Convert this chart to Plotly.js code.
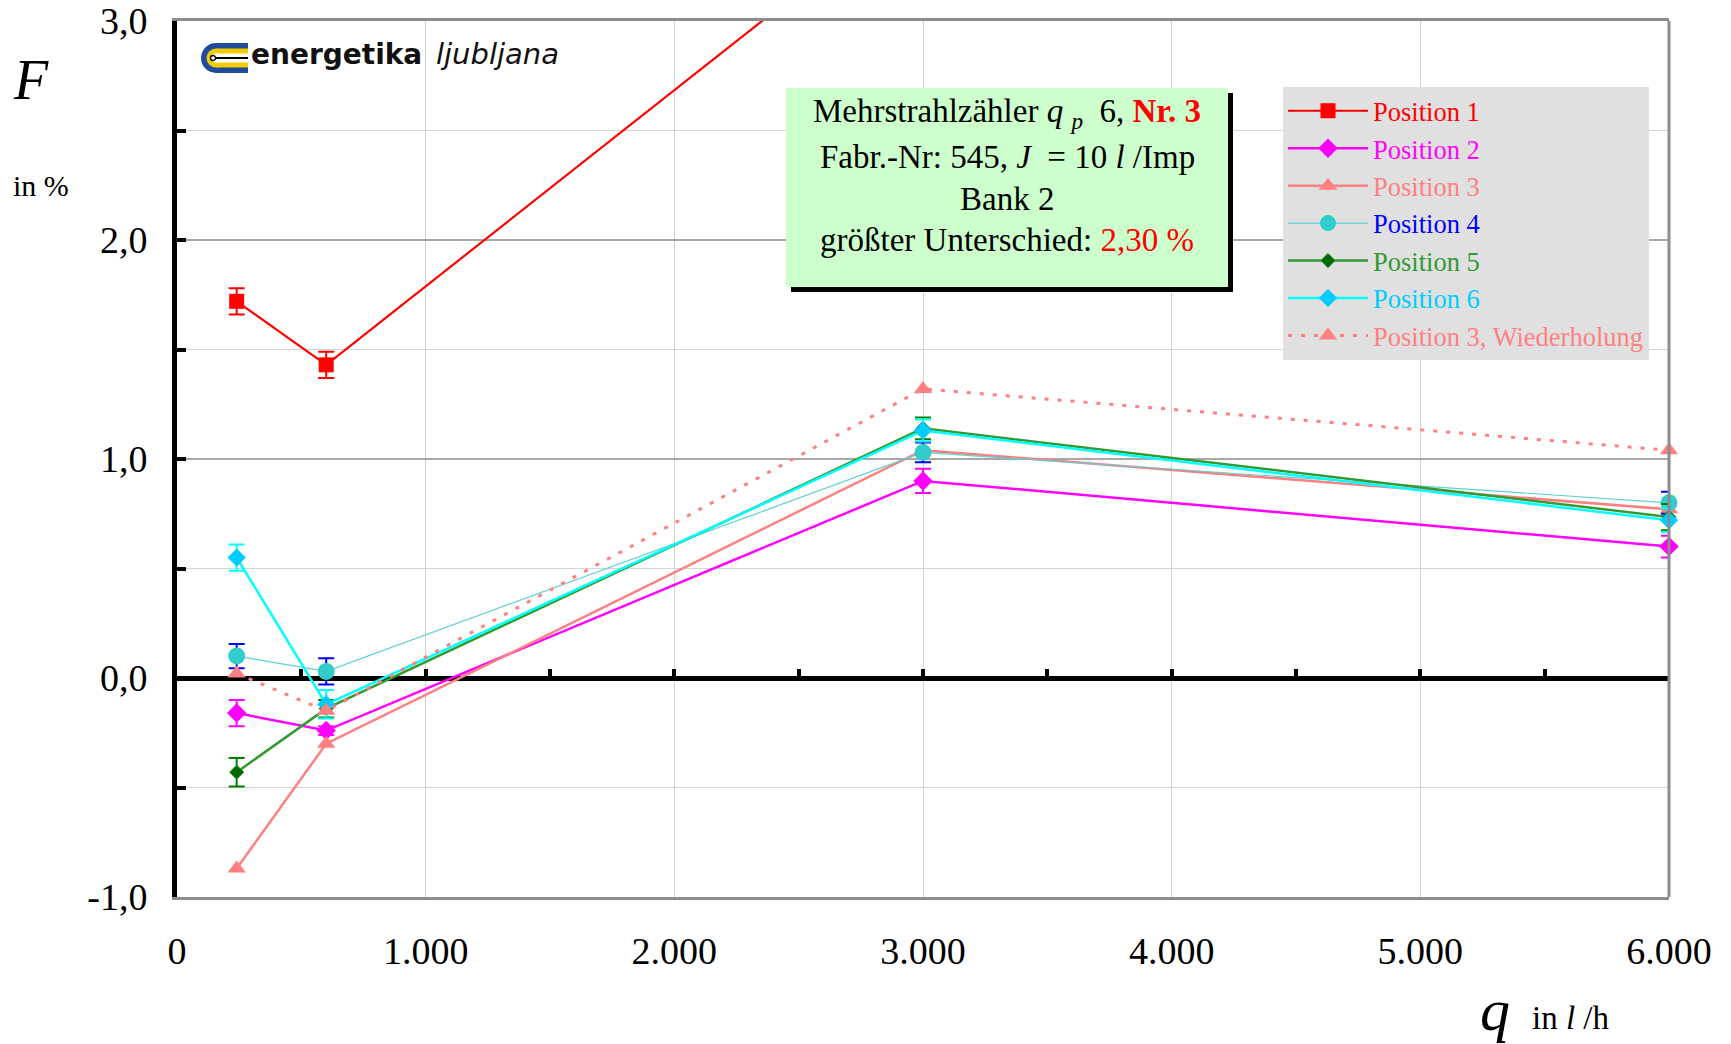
<!DOCTYPE html>
<html>
<head>
<meta charset="utf-8">
<script src="https://cdn.plot.ly/plotly-3.0.1.min.js"></script>
<style>html,body{margin:0;padding:0;background:#fff;}#chart{width:1731px;height:1044px;}</style>
</head>
<body>
<div id="chart"></div>
<script>
// ---- data ----
const flowRates = [240, 600, 3000, 6000];          // q in l/h
const flowRatesPos1 = [240, 600, 3000];
const pos1 = [1.72, 1.43, 3.58];
const pos1Err = [0.06, 0.06, 0.06];
const pos2 = [-0.16, -0.24, 0.90, 0.60];
const pos2Err = [0.06, 0.02, 0.055, 0.05];
const pos3 = [-0.87, -0.30, 1.04, 0.77];
const pos4 = [0.10, 0.03, 1.03, 0.80];
const pos4Err = [0.055, 0.06, 0.045, 0.05];
const pos5 = [-0.43, -0.14, 1.14, 0.735];
const pos5Err = [0.065, 0.04, 0.05, 0.06];
const pos6 = [0.55, -0.12, 1.13, 0.72];
const pos6Err = [0.06, 0.065, 0.05, 0.055];
const pos3Rep = [0.02, -0.15, 1.32, 1.04];
const seriesNames = ["Position 1", "Position 2", "Position 3", "Position 4", "Position 5", "Position 6", "Position 3, Wiederholung"];
const xTickVals = [0, 1000, 2000, 3000, 4000, 5000, 6000];
const yTickVals = [-1, 0, 1, 2, 3];
const yTickText = yTickVals.map(v => v.toFixed(1).replace('.', ','));

// ---- layout geometry ----
const W = 1731, H = 1044, ML = 177, MR = 62, MT = 21, MB = 147;
const PW = W - ML - MR, PH = H - MT - MB;
const px = x => (x - ML) / PW;
const py = y => (H - MB - y) / PH;
const serif = "Liberation Serif, Times New Roman, serif";

function lbl(name, color) { return '<span style="color:' + color + '">' + name + '</span>'; }

function errBar(arr, color) {
  return {type: 'data', array: arr, visible: true, color: color, thickness: 2, width: 8};
}

const traces = [
  {x: flowRatesPos1, y: pos1, name: lbl(seriesNames[0], '#FF0000'), mode: 'lines+markers',
   line: {color: '#FF0000', width: 2.2}, marker: {symbol: 'square', size: 15, color: '#FF0000'},
   error_y: errBar(pos1Err, '#FF0000'), cliponaxis: true},
  {x: flowRates, y: pos2, name: lbl(seriesNames[1], '#FF00FF'), mode: 'lines+markers',
   line: {color: '#FF00FF', width: 2.5}, marker: {symbol: 'diamond', size: 15, color: '#FF00FF'},
   error_y: errBar(pos2Err, '#FF00FF'), cliponaxis: false},
  {x: flowRates, y: pos3, name: lbl(seriesNames[2], '#FF8080'), mode: 'lines+markers',
   line: {color: '#FF8080', width: 2.5}, marker: {symbol: 'triangle-up', size: 16, color: '#FF8080'},
   cliponaxis: false},
  {x: flowRates, y: pos4, name: lbl(seriesNames[3], '#0000FF'), mode: 'lines+markers',
   line: {color: '#5FD0D0', width: 1.2}, marker: {symbol: 'circle', size: 17, color: '#33CCCC'},
   error_y: errBar(pos4Err, '#0000FF'), cliponaxis: false},
  {x: flowRates, y: pos5, name: lbl(seriesNames[4], '#339933'), mode: 'lines+markers',
   line: {color: '#339933', width: 2.5}, marker: {symbol: 'diamond', size: 11, color: '#006600', line: {color: '#339933', width: 1}},
   error_y: errBar(pos5Err, '#008000'), cliponaxis: false},
  {x: flowRates, y: pos6, name: lbl(seriesNames[5], '#00CCFF'), mode: 'lines+markers',
   line: {color: '#00FFFF', width: 2.5}, marker: {symbol: 'diamond', size: 14, color: '#00CCFF'},
   error_y: errBar(pos6Err, '#00FFFF'), cliponaxis: false},
  {x: flowRates, y: pos3Rep, name: lbl(seriesNames[6], '#FF8080'), mode: 'lines+markers',
   line: {color: '#FF8080', width: 3, dash: '4px,9px'}, marker: {symbol: 'triangle-up', size: 16, color: '#FF8080'},
   cliponaxis: false},
  // carrier for the tick marks on the zero line
  {x: [], y: [], xaxis: 'x2', yaxis: 'y', showlegend: false, hoverinfo: 'skip', mode: 'markers'}
];

// logo shapes (pixel positions converted to paper)
function circ(cx, cy, r, color) {
  return {type: 'circle', xref: 'paper', yref: 'paper', x0: px(cx - r), x1: px(cx + r), y0: py(cy + r), y1: py(cy - r),
          fillcolor: color, line: {width: 0}, layer: 'above'};
}
function rect(x0, y0, x1, y1, color, lineColor, lw) {
  return {type: 'rect', xref: 'paper', yref: 'paper', x0: px(x0), x1: px(x1), y0: py(y1), y1: py(y0),
          fillcolor: color, line: {width: lw || 0, color: lineColor || color}, layer: 'above'};
}

const shapes = [
  // right border of the plot
  {type: 'line', xref: 'paper', yref: 'paper', x0: 1, x1: 1, y0: 0, y1: 1, line: {color: '#8C8C8C', width: 3}, layer: 'above'},
  // info box: shadow and green box
  rect(791, 93, 1233, 292, '#000000'),
  rect(786, 88, 1228, 287, '#CCFFCC'),
  // logo icon
  circ(216, 58, 15, '#1E4B9B'),
  rect(216, 43, 248, 73, '#1E4B9B'),
  circ(216, 58, 9.5, '#F2CC00'),
  rect(216, 48.5, 248, 67.5, '#F2CC00'),
  circ(216, 58, 4.5, '#FFFFFF'),
  rect(216, 53.5, 248, 62.5, '#FFFFFF'),
  {type: 'line', xref: 'paper', yref: 'paper', x0: px(213), x1: px(248), y0: py(58), y1: py(58), line: {color: '#000000', width: 2.2}, layer: 'above'},
  {type: 'circle', xref: 'paper', yref: 'paper', x0: px(210.5), x1: px(215.5), y0: py(60.5), y1: py(55.5), fillcolor: '#FFFFFF', line: {color: '#000000', width: 1.4}, layer: 'above'}
];

function ann(text, x, y, size, opts) {
  return Object.assign({text: text, xref: 'paper', yref: 'paper', x: px(x), y: py(y), showarrow: false,
    xanchor: 'center', yanchor: 'middle', font: {family: serif, size: size, color: '#000000'}}, opts || {});
}

const annotations = [
  ann('<i>F</i>', 31, 80, 56),
  ann('in %', 41, 185, 30),
  ann('<i>q</i>', 1495, 1010, 60),
  ann('in <i>l</i> /h', 1571, 1018, 33),
  ann('Mehrstrahlzähler <i>q</i> <sub><i>p</i></sub>  6, <b><span style="color:#FF0000">Nr. 3</span></b>', 1007, 114, 33),
  ann('Fabr.-Nr: 545, <i>J</i>  = 10 <i>l</i> /Imp', 1007, 157, 33),
  ann('Bank 2', 1007, 199, 33),
  ann('größter Unterschied: <span style="color:#FF0000">2,30 %</span>', 1007, 240, 33),
  ann('<b>energetika</b>', 249, 54, 28, {xanchor: 'left', font: {family: 'DejaVu Sans', size: 28, color: '#111111'}}),
  ann('<i>ljubljana</i>', 434, 54, 29, {xanchor: 'left', font: {family: 'DejaVu Sans', size: 29, color: '#111111'}})
];

const layout = {
  width: W, height: H,
  margin: {l: ML, r: MR, t: MT, b: MB, pad: 0},
  paper_bgcolor: '#FFFFFF', plot_bgcolor: '#FFFFFF',
  separators: ',.',
  showlegend: true,
  font: {family: serif, color: '#000000'},
  xaxis: {
    range: [0, 6000], tickvals: xTickVals, tickformat: ',d',
    showgrid: true, gridcolor: '#D0D0D0', gridwidth: 1,
    zeroline: false, showline: true, linecolor: '#8C8C8C', linewidth: 3, mirror: true,
    ticks: '', ticklabelstandoff: 18,
    tickfont: {family: serif, size: 38, color: '#000000'}
  },
  xaxis2: {
    overlaying: 'x', anchor: 'free', position: 0.25, range: [0, 6000], side: 'bottom',
    tickmode: 'linear', tick0: 0, dtick: 500,
    ticks: 'inside', ticklen: 9, tickwidth: 4, tickcolor: '#000000',
    showticklabels: false, showgrid: false, zeroline: false, showline: false
  },
  yaxis: {
    range: [-1, 3], tickmode: 'array', tickvals: yTickVals, ticktext: yTickText,
    showgrid: true, gridcolor: '#A8A8A8', gridwidth: 1.3,
    minor: {dtick: 0.5, showgrid: true, gridcolor: '#D4D4D4', gridwidth: 1, ticks: 'inside', ticklen: 9, tickwidth: 4, tickcolor: '#000000'},
    zeroline: true, zerolinecolor: '#000000', zerolinewidth: 5,
    showline: true, linecolor: '#000000', linewidth: 5,
    ticks: 'inside', ticklen: 9, tickwidth: 4, tickcolor: '#000000',
    ticklabelstandoff: 17,
    tickfont: {family: serif, size: 38, color: '#000000'}
  },
  legend: {
    x: px(1283), y: py(87), xanchor: 'left', yanchor: 'top',
    bgcolor: '#E0E0E0', borderwidth: 0,
    font: {family: serif, size: 26.5},
    itemwidth: 80, tracegroupgap: 0
  },
  shapes: shapes,
  annotations: annotations
};

Plotly.newPlot('chart', traces, layout, {displayModeBar: false, staticPlot: true});
</script>
</body>
</html>
